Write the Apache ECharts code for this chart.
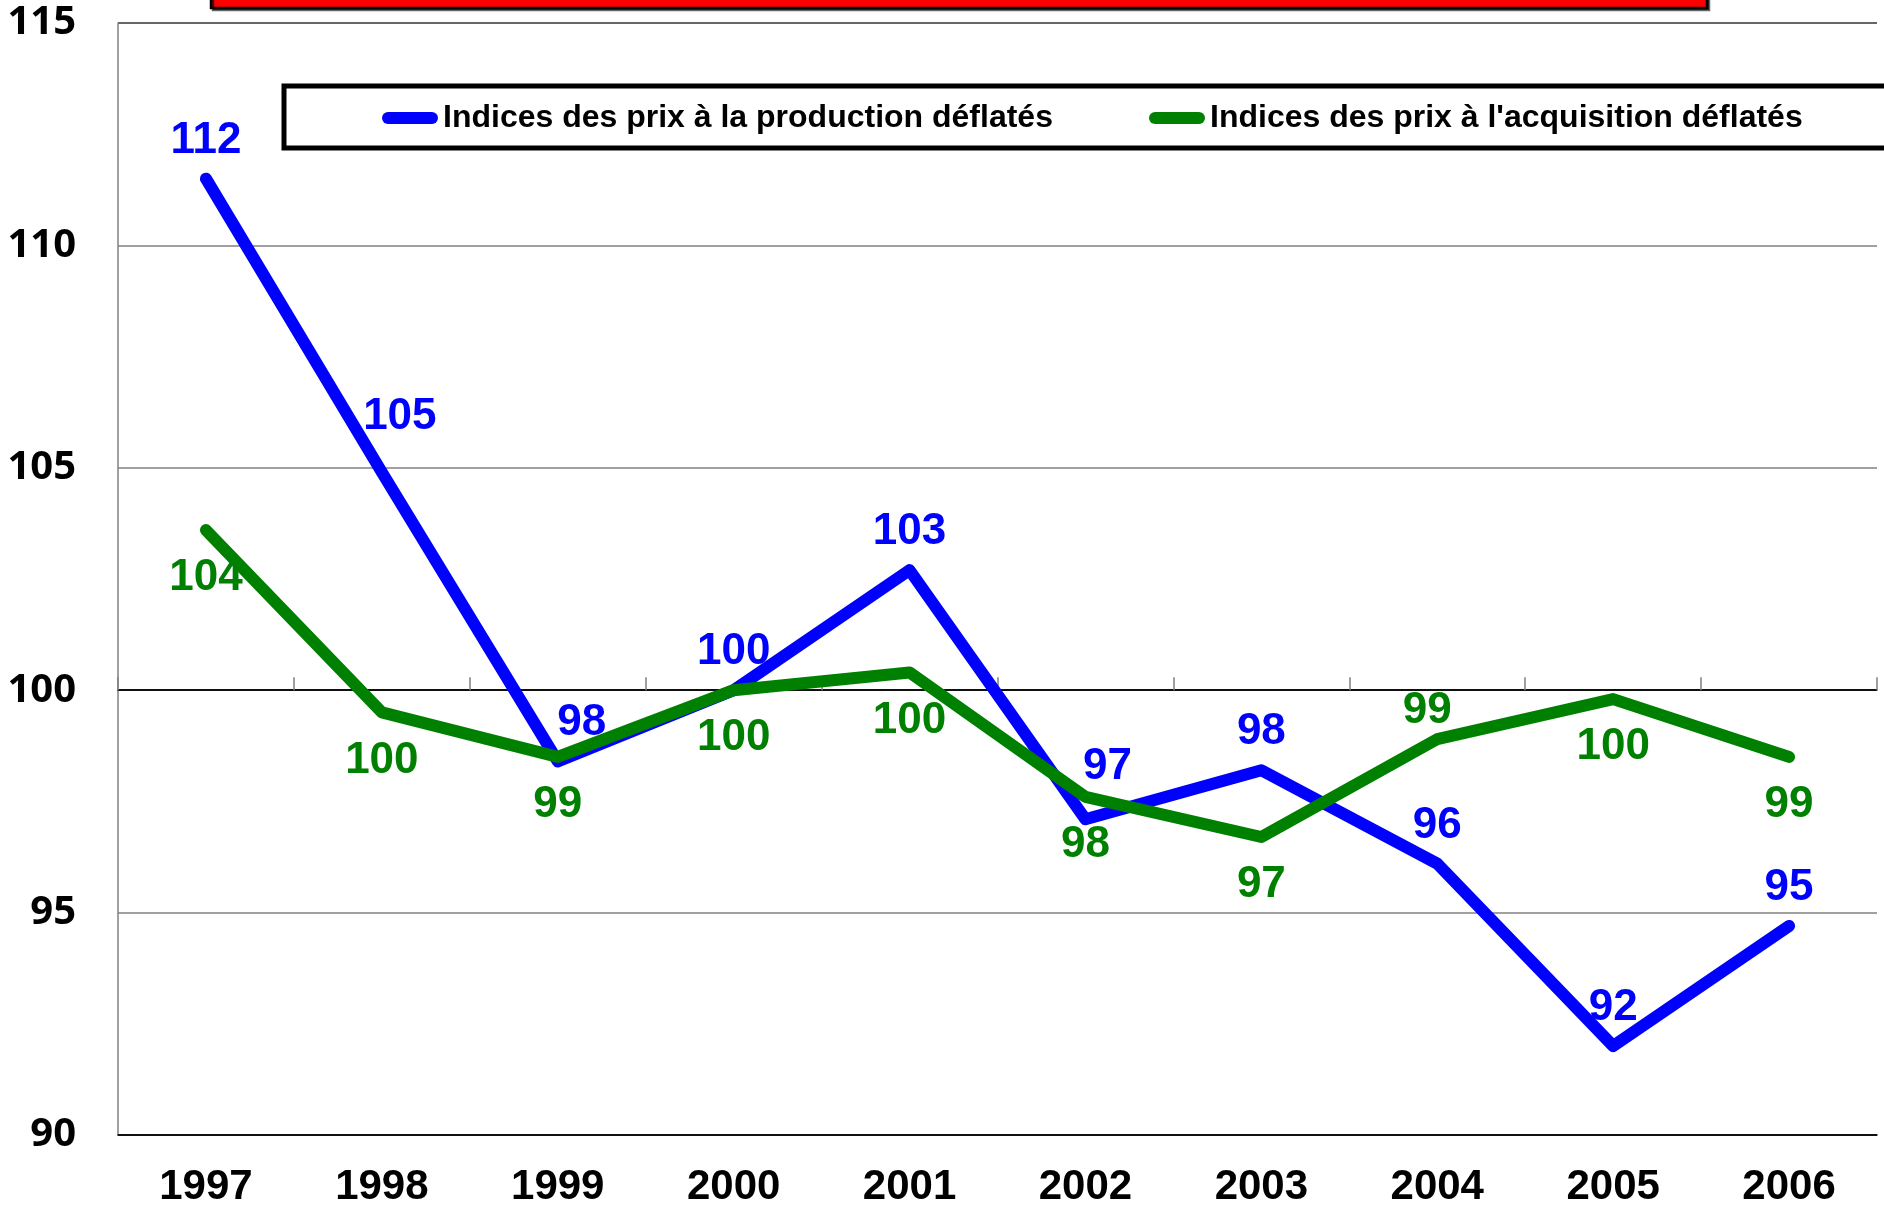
<!DOCTYPE html>
<html>
<head>
<meta charset="utf-8">
<script src="https://cdn.jsdelivr.net/npm/echarts@6/dist/echarts.min.js"></script>
<style>
  html, body { margin: 0; padding: 0; background: #fff; }
  #chart { width: 1884px; height: 1208px; }
</style>
</head>
<body>
<div id="chart"></div>
<script>
const years = ['1997', '1998', '1999', '2000', '2001', '2002', '2003', '2004', '2005', '2006']
const production = [111.5, 104.9, 98.4, 100.0, 102.7, 97.1, 98.2, 96.1, 92.0, 94.7]
const acquisition = [103.6, 99.5, 98.5, 100.0, 100.4, 97.6, 96.7, 98.9, 99.8, 98.5]
const yTicks = [90, 95, 100, 105, 110, 115]
const seriesNames = ['Indices des prix à la production déflatés', "Indices des prix à l'acquisition déflatés"]

const narrow = '"Liberation Sans", Arial, sans-serif'
const labelFont = { fontFamily: narrow, fontWeight: 'bold', fontSize: 44 }

// hand placed labels (like Excel moved them)
const blueTweaks = { 1: [18, -17], 2: [24, 0], 5: [22, -14] }
const greenTweaks = { 7: { position: 'top', offset: [-10, 20] } }

function blueData () {
  return production.map((v, i) => {
    const p = { value: v }
    if (blueTweaks[i]) p.label = { offset: blueTweaks[i] }
    return p
  })
}
function greenData () {
  return acquisition.map((v, i) => {
    const p = { value: v }
    if (greenTweaks[i]) p.label = greenTweaks[i]
    return p
  })
}

const chart = echarts.init(document.getElementById('chart'))
const pill = 'path://M6,0 L50,0 A6,6 0 0 1 50,12 L6,12 A6,6 0 0 1 6,0 Z'
const legendText = { fontFamily: narrow, fontWeight: 'bold', fontSize: 32, color: '#000' }

chart.setOption({
  animation: false,
  graphic: [
    {
      type: 'rect',
      shape: { x: 211, y: -12, width: 1496, height: 20 },
      style: { fill: '#ff0000', stroke: '#000', lineWidth: 2.5, shadowColor: 'rgba(0,0,0,0.6)', shadowOffsetX: 2, shadowOffsetY: 2 },
      z: 10
    },
    {
      type: 'rect',
      shape: { x: 284, y: 86, width: 1640, height: 62 },
      style: { fill: '#fff', stroke: '#000', lineWidth: 5 },
      z: 10
    }
  ],
  legend: [
    {
      data: [seriesNames[0]],
      left: 377,
      top: 97,
      icon: pill,
      itemWidth: 56,
      itemHeight: 12,
      textStyle: legendText,
      z: 20
    },
    {
      data: [seriesNames[1]],
      left: 1144,
      top: 97,
      icon: pill,
      itemWidth: 56,
      itemHeight: 12,
      textStyle: legendText,
      z: 20
    }
  ],
  grid: { left: 118, right: 7, top: 23, bottom: 73 },
  xAxis: [
    {
      type: 'category',
      data: years,
      axisLine: { show: true, lineStyle: { color: '#000', width: 1.5 } },
      axisTick: { show: false },
      axisLabel: {
        margin: 31,
        color: '#000',
        fontFamily: narrow,
        fontWeight: 'bold',
        fontSize: 42
      }
    },
    {
      // axis crossing at 100 with upward ticks
      type: 'category',
      data: years,
      position: 'bottom',
      offset: -444.8,
      axisLine: { show: true, lineStyle: { color: '#000', width: 1.5 } },
      axisTick: { show: true, inside: true, length: 13, lineStyle: { color: '#808080', width: 1.5 } },
      axisLabel: { show: false }
    }
  ],
  yAxis: {
    type: 'value',
    min: 90,
    max: 115,
    interval: 5,
    axisLine: { show: true, lineStyle: { color: '#808080', width: 1.5 } },
    axisTick: { show: false },
    axisLabel: {
      margin: 42,
      color: '#000',
      fontFamily: '"Open Sans", sans-serif',
      fontWeight: 'bold',
      fontSize: 40,
      formatter: v => (yTicks.includes(v) ? String(v) : '')
    },
    splitLine: {
      show: true,
      lineStyle: { color: ['#000', '#808080', '#000', '#808080', '#808080', '#333'], width: 1.5 }
    }
  },
  series: [
    {
      name: seriesNames[0],
      type: 'line',
      data: blueData(),
      color: '#0000ff',
      symbol: 'circle',
      symbolSize: 0.1,
      showSymbol: true,
      lineStyle: { width: 12, color: '#0000ff', cap: 'round', join: 'round' },
      label: {
        show: true,
        position: 'top',
        distance: 16,
        color: '#0000ff',
        ...labelFont,
        formatter: p => Math.round(p.value)
      },
      z: 3
    },
    {
      name: seriesNames[1],
      type: 'line',
      data: greenData(),
      color: '#008000',
      symbol: 'circle',
      symbolSize: 0.1,
      showSymbol: true,
      lineStyle: { width: 12, color: '#008000', cap: 'round', join: 'round' },
      label: {
        show: true,
        position: 'bottom',
        distance: 26,
        color: '#008000',
        ...labelFont,
        formatter: p => Math.round(p.value)
      },
      z: 4
    }
  ]
})
</script>
</body>
</html>
